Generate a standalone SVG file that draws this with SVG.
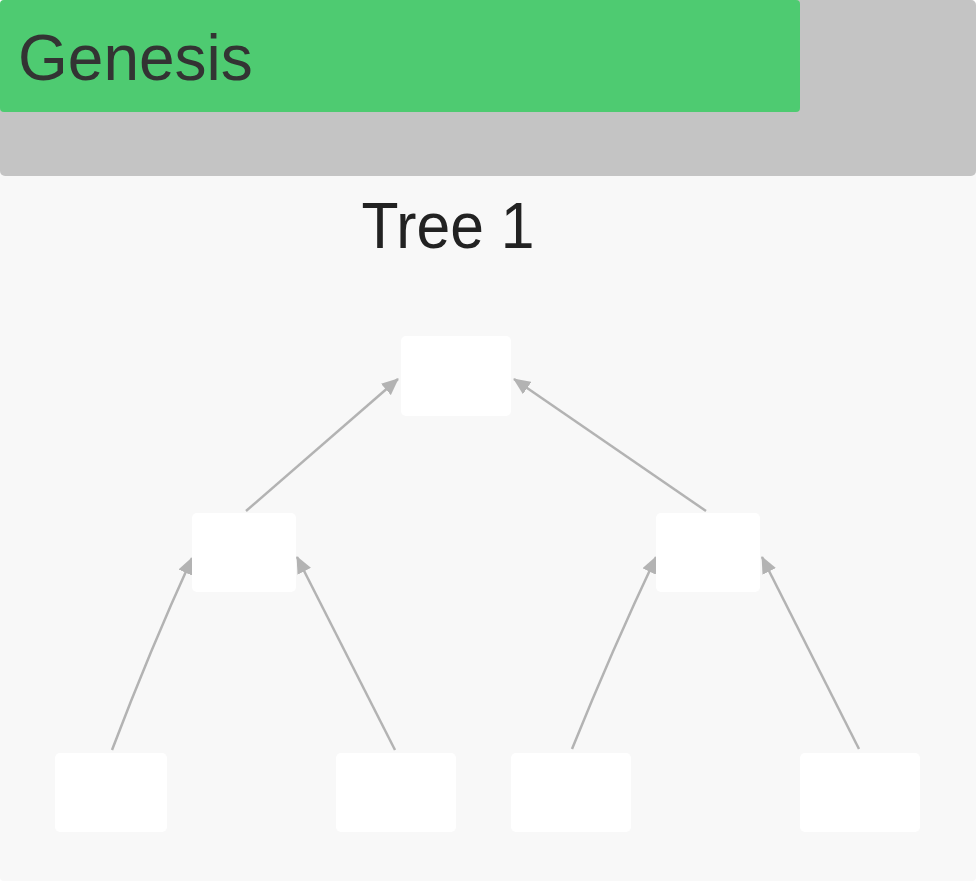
<svg xmlns="http://www.w3.org/2000/svg" width="976" height="881" viewBox="0 0 976 881">
<style>
.node{fill:#ffffff}
.edge{fill:none;stroke:#b3b3b3;stroke-width:2.5}
.title{font-family:"Liberation Sans",Arial,sans-serif;font-size:64px}
</style>
<defs>
<marker id="arr" markerUnits="userSpaceOnUse" markerWidth="17" markerHeight="15" viewBox="0 0 17 15" refX="16" refY="7.5" orient="auto">
<path d="M0,0 L17,7.5 L0,15 Z" fill="#b3b3b3"/>
</marker>
</defs>
<rect x="0" y="0" width="976" height="881" fill="#f8f8f8" rx="4"/>
<g id="header">
<rect x="0" y="0" width="976" height="176" rx="5" fill="#c4c4c4"/>
<rect x="0" y="0" width="800" height="112" rx="4" fill="#4ecb71"/>
<text x="18" y="80" class="title" fill="#333333">Genesis</text>
</g>
<g id="tree-title">
<text x="448" y="248" class="title" fill="#222222" text-anchor="middle" textLength="173" lengthAdjust="spacingAndGlyphs">Tree 1</text>
</g>
<g id="connectors">
<path class="edge" d="M246,511 L398,379" marker-end="url(#arr)"/>
<path class="edge" d="M706,511 L514,379" marker-end="url(#arr)"/>
<path class="edge" d="M112,750 Q150,650 192,558" marker-end="url(#arr)"/>
<path class="edge" d="M395,750 L297,557" marker-end="url(#arr)"/>
<path class="edge" d="M572,749 Q612,650 656,557" marker-end="url(#arr)"/>
<path class="edge" d="M859,749 L762,557" marker-end="url(#arr)"/>
</g>
<g id="root"><rect class="node" x="401" y="336" width="110" height="80" rx="5"/></g>
<g id="mid-left"><rect class="node" x="192" y="513" width="104" height="79" rx="5"/></g>
<g id="mid-right"><rect class="node" x="656" y="513" width="104" height="79" rx="5"/></g>
<g id="leaf-1"><rect class="node" x="55" y="753" width="112" height="79" rx="5"/></g>
<g id="leaf-2"><rect class="node" x="336" y="753" width="120" height="79" rx="5"/></g>
<g id="leaf-3"><rect class="node" x="511" y="753" width="120" height="79" rx="5"/></g>
<g id="leaf-4"><rect class="node" x="800" y="753" width="120" height="79" rx="5"/></g>
</svg>
